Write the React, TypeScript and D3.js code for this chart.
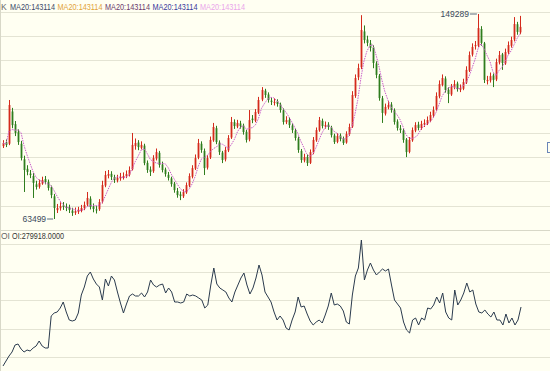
import React, { useEffect } from "react";
import * as d3 from "d3";

// prices in thousands
const closes = [95.3,94.5,111.2,102.8,99.5,95.7,89.0,84.0,83.2,81.9,
78.6,76.9,78.6,79.8,79.0,76.5,73.5,68.1,68.1,68.9,
68.5,68.1,67.3,66.0,66.8,67.3,68.1,69.4,72.3,68.5,
67.7,67.3,70.6,77.7,81.9,82.3,81.1,79.8,80.7,81.1,
81.5,82.3,84.0,94.5,95.3,93.6,94.5,86.9,84.0,83.2,
89.0,91.5,86.1,84.0,82.3,80.7,78.1,75.6,73.5,73.1,
74.8,77.7,81.5,84.8,89.0,95.3,92.4,84.8,89.0,96.6,
102.0,95.7,91.5,88.2,92.4,97.4,104.1,102.4,103.7,102.4,
99.9,96.6,104.9,104.9,108.3,113.3,117.5,115.4,113.3,112.5,
112.5,111.6,109.1,104.1,104.9,102.8,100.7,97.4,92.4,88.2,
89.4,86.9,91.5,96.6,100.7,104.9,102.4,102.8,102.0,98.6,
95.7,98.2,97.0,95.3,99.1,102.0,115.4,122.5,126.7,142.6,
138.4,137.2,135.1,128.8,123.8,114.1,107.9,110.4,111.2,109.1,
104.1,101.6,100.7,96.6,91.5,96.6,100.7,102.8,101.6,103.3,
103.7,104.9,107.0,109.1,115.0,120.0,122.5,117.5,115.8,118.7,
120.0,117.9,118.3,120.8,125.9,132.1,135.5,136.3,143.4,137.2,
121.7,121.7,123.3,121.7,129.2,132.1,128.8,133.4,136.3,138.4,
145.1,141.8,143.9];

const opens = [94.0,95.6,95.0,108.5,103.2,100.0,95.0,88.5,84.5,82.5,
81.5,78.0,77.0,78.3,80.2,79.0,76.8,73.0,67.2,68.0,
69.2,68.6,68.3,67.0,66.1,66.5,67.0,68.0,69.5,72.0,
68.8,67.5,67.6,70.8,77.5,81.6,82.4,81.0,79.6,80.5,
81.0,81.4,82.0,84.3,94.0,95.5,93.3,94.2,87.0,84.2,
83.5,88.8,91.2,86.3,84.2,82.0,80.5,78.3,75.2,73.8,
73.0,74.6,77.5,81.2,84.6,89.2,95.0,92.0,85.0,89.3,
96.4,101.5,95.5,91.3,88.4,92.2,97.6,104.0,102.2,103.5,
102.6,100.0,96.8,105.5,104.6,108.0,113.5,117.2,115.6,113.0,
112.2,112.8,111.4,109.0,104.0,105.0,102.6,100.5,97.2,92.0,
88.0,89.5,87.0,91.3,96.4,100.6,104.6,102.2,103.0,101.8,
98.4,95.8,98.4,97.2,95.5,99.0,102.2,115.0,122.8,127.0,
142.0,138.6,137.0,135.3,128.6,123.5,114.0,107.6,110.2,111.4,
109.0,104.3,101.4,100.5,96.8,91.6,96.4,100.5,103.0,101.5,
103.0,103.5,104.6,106.8,109.3,114.8,119.6,122.3,117.6,115.6,
118.5,120.2,117.6,118.0,120.6,125.6,132.3,135.8,136.0,143.0,
137.0,121.2,121.5,123.6,121.9,129.0,132.4,128.6,133.2,136.0,
138.6,145.0,141.6];

const highs = [96.5,96.8,113.3,110.0,104.5,101.0,96.2,90.0,86.0,84.0,
82.8,79.5,80.0,81.2,81.5,80.0,77.5,74.0,69.8,70.5,
70.6,70.0,69.5,68.2,68.3,68.6,69.4,70.8,74.8,73.0,
70.0,69.0,71.8,79.5,83.6,84.0,83.5,82.0,82.0,82.8,
83.0,83.8,85.5,99.5,97.2,96.5,96.0,95.0,88.0,85.5,
90.2,93.0,92.0,87.5,85.0,83.2,81.2,79.0,76.5,75.0,
76.0,78.8,82.6,86.0,90.5,97.0,96.0,93.0,90.2,98.0,
103.7,102.5,96.4,92.0,93.6,98.6,106.2,105.2,105.0,104.6,
103.4,100.8,109.1,107.0,109.5,114.6,118.7,118.0,116.5,114.2,
114.0,113.6,112.2,109.8,106.5,106.0,103.5,101.2,98.0,92.8,
90.8,90.5,92.6,97.8,101.8,106.2,105.5,104.3,104.0,102.5,
99.2,99.4,99.3,98.0,100.2,103.4,117.0,124.0,128.5,148.8,
144.5,140.2,138.4,136.2,129.5,124.2,115.0,111.8,112.8,112.4,
109.8,105.2,102.8,101.4,97.4,97.8,101.8,104.0,104.2,104.6,
105.2,106.4,108.4,110.6,116.5,121.5,124.0,123.2,118.6,120.0,
121.6,121.0,119.8,122.2,127.4,133.6,137.0,138.0,149.289,144.2,
137.6,123.4,124.8,124.4,130.6,133.8,133.0,134.8,137.8,139.8,
148.0,146.0,148.5];

const lows = [93.2,93.6,94.4,101.5,98.2,94.5,88.0,74.8,81.8,80.6,
72.3,75.8,76.2,77.8,78.0,75.4,72.2,63.499,66.0,67.0,
67.3,66.8,66.0,64.8,65.2,65.6,66.3,67.2,68.8,67.5,
66.3,65.8,66.9,70.0,76.8,80.5,79.8,78.6,78.8,79.5,
80.0,80.6,81.3,83.8,92.5,92.3,92.6,86.0,82.8,81.5,
82.8,88.0,85.0,83.0,81.2,79.6,77.0,74.5,72.4,71.4,
72.3,74.0,76.8,80.5,84.0,88.5,91.2,81.9,84.2,88.6,
95.8,94.8,90.3,86.9,87.6,91.5,97.0,101.2,101.5,101.3,
98.8,95.5,96.0,103.6,104.0,107.4,112.8,114.2,112.2,111.2,
111.0,110.5,108.0,103.0,103.2,101.6,99.5,96.3,91.2,87.0,
87.2,85.7,86.5,90.6,95.8,100.0,101.4,101.3,100.8,97.6,
94.9,95.2,96.0,94.5,95.0,98.3,101.6,114.2,121.6,126.2,
137.0,135.8,133.6,126.6,122.4,113.0,103.7,106.8,109.4,108.0,
103.0,100.5,99.5,95.4,89.4,91.0,95.8,99.8,100.6,100.8,
102.0,102.8,104.0,106.0,108.6,114.0,119.0,116.4,112.0,115.0,
117.8,116.8,116.6,117.4,120.0,125.0,131.5,134.4,135.4,136.0,
120.4,119.8,120.6,118.7,121.2,128.2,125.9,128.0,132.4,135.2,
137.8,140.6,140.8];

// open interest in thousands
const openInterest = [191.4,198.9,206.4,212.4,222.9,224.4,216.9,212.4,215.4,213.9,
218.4,221.4,228.9,221.4,218.4,218.4,266.4,270.9,272.4,278.4,
287.4,272.4,260.4,258.9,260.4,270.9,297.9,309.9,326.4,332.4,
321.9,314.4,309.9,290.4,321.9,311.4,326.4,320.4,302.4,285.9,
270.9,284.4,296.4,299.4,296.4,296.4,300.9,294.9,302.4,320.4,
312.9,309.9,312.9,314.4,300.9,308.4,302.4,287.4,287.4,285.9,
287.4,299.4,296.4,297.9,296.4,293.4,290.4,278.4,282.9,312.9,
338.4,314.4,308.4,305.4,302.4,293.4,287.4,302.4,312.9,323.4,
330.9,312.9,299.4,308.4,323.4,342.9,327.9,302.4,294.9,287.4,
272.4,260.4,266.4,260.4,248.4,245.4,260.4,272.4,294.9,279.9,
281.4,269.4,258.9,252.9,257.4,260.4,255.9,267.9,281.4,300.9,
282.9,284.4,281.4,273.9,257.4,254.4,297.9,326.4,338.4,380.4,
320.4,335.4,345.9,335.4,327.9,332.4,336.9,333.9,336.9,312.9,
290.4,284.4,278.4,257.4,245.4,240.9,260.4,263.4,252.9,263.4,
260.4,278.4,276.9,282.9,294.9,285.9,300.9,272.4,263.4,260.4,
305.4,282.9,290.4,300.9,315.9,302.4,305.4,284.4,272.4,270.9,
275.4,269.4,264.9,272.4,260.4,260.4,252.9,269.4,255.9,263.4,
252.9,260.4,279.918];

const maLabels = ["MA20:143114", "MA20:143114", "MA20:143114", "MA20:143114", "MA20:143114"];
const maColors = ["#3b4a68", "#e2a43a", "#6b3b6b", "#3a3a9c", "#eaa6ea"];
const maPeriod = 5;

const W = 550;
const H = 371;
const UP = "#d42a1c";
const DOWN = "#2f7d1e";
const GRID = "#e4e4d4";
const FONT = "'Liberation Sans', Arial, sans-serif";

const App: React.FC = () => {
  useEffect(() => {
    document.body.style.margin = "0";
  }, []);

  const n = closes.length;
  const x = d3.scaleLinear().domain([0, n - 1]).range([3, 520]);
  const y = d3.scaleLinear().domain([63.499, 149.289]).range([219, 14]);
  const xo = d3.scaleLinear().domain([0, openInterest.length - 1]).range([3, 521]);
  const yo = d3.scaleLinear().domain([189.918, 374.418]).range([367, 244]);

  // moving average of closes
  const ma = closes.map((_, i) => {
    const w = closes.slice(Math.max(0, i - maPeriod + 1), i + 1);
    return d3.mean(w) as number;
  });
  const maLine = d3.line<number>().x((_, i) => x(i)).y((d) => y(d))(ma) || "";
  const oiLine = d3.line<number>().x((_, i) => xo(i)).y((d) => yo(d))(openInterest) || "";

  const topGrid = d3.range(10).map((k) => Math.round(12 + k * 24.2) + 0.5);
  const oiGrid = d3.range(5).map((k) => Math.round(244 + k * 28.2) + 0.5);

  const lo = d3.minIndex(lows);
  const hi = d3.maxIndex(highs);
  const lastOi = openInterest[openInterest.length - 1];

  return (
    <svg width={W} height={H} style={{ display: "block", background: "#fffff2" }}>
      <rect x={0} y={0} width={W} height={H} fill="#fffff2" />
      {topGrid.map((g, i) => (
        <line key={"tg" + i} x1={0} x2={W} y1={g} y2={g} stroke={i === 9 ? "#d8d8c8" : GRID} />
      ))}
      {oiGrid.map((g, i) => (
        <line key={"og" + i} x1={0} x2={W} y1={g} y2={g} stroke={GRID} />
      ))}
      <line x1={0.5} x2={0.5} y1={0} y2={H} stroke="#d8d8c8" />

      {/* candles */}
      {closes.map((c, i) => {
        const o = opens[i];
        const col = c >= o ? UP : DOWN;
        const cx = Math.round(x(i)) + 0.5;
        const yt = y(Math.max(o, c));
        const yb = y(Math.min(o, c));
        return (
          <g key={"c" + i}>
            <line x1={cx} x2={cx} y1={y(highs[i])} y2={y(lows[i])} stroke={col} strokeWidth={1} />
            <rect x={cx - 0.9} y={yt} width={1.8} height={Math.max(1, yb - yt)} fill={col} />
          </g>
        );
      })}

      <path d={maLine} fill="none" stroke="#c95ec9" strokeWidth={1} strokeDasharray="1.5,1" />

      {/* extreme labels */}
      <line x1={x(lo) - 7} x2={x(lo) - 1} y1={y(lows[lo])} y2={y(lows[lo])} stroke="#5a6a7a" />
      <text x={x(lo) - 8} y={y(lows[lo]) + 3} textAnchor="end" fontSize={8.5} fontFamily={FONT} fill="#3b4a5c">
        {Math.round(lows[lo] * 1000)}
      </text>
      <line x1={x(hi) - 8} x2={x(hi) - 1} y1={y(highs[hi])} y2={y(highs[hi])} stroke="#5a6a7a" />
      <text x={x(hi) - 9} y={y(highs[hi]) + 3} textAnchor="end" fontSize={8.5} fontFamily={FONT} fill="#3b4a5c">
        {Math.round(highs[hi] * 1000)}
      </text>

      {/* OI line */}
      <path d={oiLine} fill="none" stroke="#2b3b4e" strokeWidth={1} />

      {/* legends */}
      <text x={1} y={9.5} fontSize={8.5} fontFamily={FONT} fill="#666">K</text>
      {maLabels.map((t, i) => (
        <text key={"ma" + i} x={10 + i * 47.5} y={9.5} fontSize={8.5} fontFamily={FONT} fill={maColors[i]}
          textLength={45} lengthAdjust="spacingAndGlyphs">
          {t}
        </text>
      ))}
      <text x={1} y={238.5} fontSize={8.5} fontFamily={FONT} fill="#666">OI</text>
      <text x={12} y={238.5} fontSize={8.5} fontFamily={FONT} fill="#333" textLength={52} lengthAdjust="spacingAndGlyphs">
        {"OI:" + (lastOi * 1000).toFixed(4)}
      </text>

      <rect x={547.5} y={142.5} width={8} height={10} fill="none" stroke="#6a86b8" />
    </svg>
  );
};

export default App;
